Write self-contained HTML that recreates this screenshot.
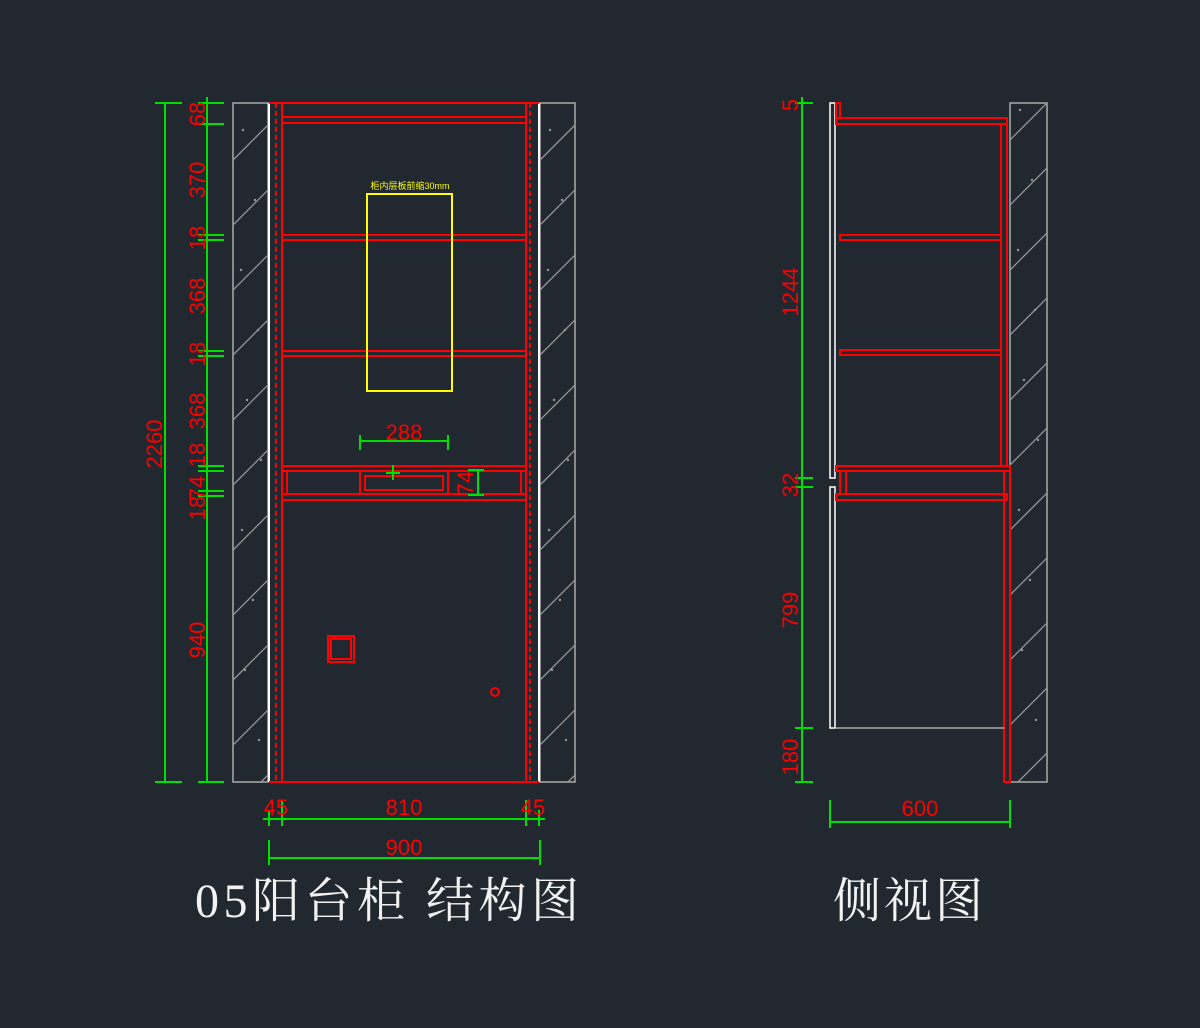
<!DOCTYPE html>
<html><head><meta charset="utf-8"><style>
html,body{margin:0;padding:0;background:#212830;}
svg{display:block}
.r{fill:none;stroke:#f00;stroke-width:2}
.g{fill:none;stroke:#00e000;stroke-width:2}
.w{fill:none;stroke:#aaa;stroke-width:1.5}
.dt{fill:#f00;font-family:"Liberation Sans Narrow","Liberation Sans",sans-serif;font-size:22px}
</style></head><body>
<svg width="1200" height="1028" viewBox="0 0 1200 1028" xmlns="http://www.w3.org/2000/svg">
<rect width="1200" height="1028" fill="#212830"/>
<defs>
<clipPath id="cl"><rect x="233" y="103" width="35" height="679"/></clipPath>
<clipPath id="cr"><rect x="540" y="103" width="35" height="679"/></clipPath>
<clipPath id="cs"><rect x="1010" y="103" width="37" height="679"/></clipPath>
<g id="hatch" stroke="#999" stroke-width="1.3">
<line x1="0" y1="160" x2="60" y2="100"/><line x1="0" y1="225" x2="60" y2="165"/>
<line x1="0" y1="290" x2="60" y2="230"/><line x1="0" y1="355" x2="60" y2="295"/>
<line x1="0" y1="420" x2="60" y2="360"/><line x1="0" y1="485" x2="60" y2="425"/>
<line x1="0" y1="550" x2="60" y2="490"/><line x1="0" y1="615" x2="60" y2="555"/>
<line x1="0" y1="680" x2="60" y2="620"/><line x1="0" y1="745" x2="60" y2="685"/>
<line x1="0" y1="810" x2="60" y2="750"/>
<g fill="#999" stroke="none">
<circle cx="10" cy="130" r="1.2"/><circle cx="22" cy="200" r="1.2"/><circle cx="8" cy="270" r="1.2"/><circle cx="25" cy="330" r="1.2"/><circle cx="14" cy="400" r="1.2"/><circle cx="28" cy="460" r="1.2"/><circle cx="9" cy="530" r="1.2"/><circle cx="20" cy="600" r="1.2"/><circle cx="12" cy="670" r="1.2"/><circle cx="26" cy="740" r="1.2"/>
</g>
</g>
</defs>
<rect x="233" y="103" width="35" height="679" class="w"/>
<g clip-path="url(#cl)"><use href="#hatch" x="233" y="0"/></g>
<rect x="540" y="103" width="35" height="679" class="w"/>
<g clip-path="url(#cr)"><use href="#hatch" x="540" y="0"/></g>
<rect x="1010" y="103" width="37" height="679" class="w"/>
<g clip-path="url(#cs)"><use href="#hatch" x="1010" y="-20"/></g>
<line x1="269" y1="103" x2="269" y2="782" stroke="#fff" stroke-width="2"/>
<line x1="539" y1="103" x2="539" y2="782" stroke="#fff" stroke-width="2"/>
<line x1="276" y1="103" x2="276" y2="782" stroke="#f00" stroke-width="2" stroke-dasharray="5,3"/>
<line x1="530" y1="103" x2="530" y2="782" stroke="#f00" stroke-width="2" stroke-dasharray="5,3"/>
<line x1="282" y1="103" x2="282" y2="782" class="r"/>
<line x1="526" y1="103" x2="526" y2="782" class="r"/>
<line x1="269" y1="103" x2="539" y2="103" class="r"/>
<line x1="269" y1="782" x2="539" y2="782" class="r"/>
<rect x="282" y="117" width="244" height="6" class="r"/>
<rect x="282" y="235" width="244" height="5" class="r"/>
<rect x="282" y="351" width="244" height="5" class="r"/>
<rect x="282" y="466" width="244" height="5" class="r"/>
<rect x="282" y="494" width="244" height="6" class="r"/>
<line x1="287" y1="471" x2="287" y2="494" class="r"/>
<line x1="521" y1="471" x2="521" y2="494" class="r"/>
<rect x="360" y="471" width="88" height="23" class="r"/>
<rect x="365" y="476" width="78" height="14" class="r"/>
<rect x="367" y="194" width="85" height="197" fill="none" stroke="#ff0" stroke-width="2"/>
<text x="410" y="189" fill="#ff0" font-size="9" text-anchor="middle" font-family="'Liberation Sans','Noto Sans CJK SC',sans-serif">柜内层板前缩30mm</text>
<rect x="328" y="636" width="26" height="26" class="r"/><rect x="331" y="639" width="20" height="20" class="r" stroke-width="1"/>
<circle cx="495" cy="692" r="4" class="r" stroke-width="1.5"/>
<line x1="360" y1="441" x2="448" y2="441" class="g"/>
<line x1="360" y1="435" x2="360" y2="450" class="g"/><line x1="448" y1="435" x2="448" y2="450" class="g"/>
<text x="404" y="440" class="dt" text-anchor="middle">288</text>
<line x1="393" y1="465" x2="393" y2="480" class="g"/><line x1="386" y1="473" x2="400" y2="473" class="g"/>
<line x1="478" y1="470" x2="478" y2="495" class="g"/><line x1="468" y1="470" x2="484" y2="470" class="g"/><line x1="468" y1="495" x2="484" y2="495" class="g"/>
<text transform="translate(473,483) rotate(-90)" class="dt" text-anchor="middle" font-size="18">74</text>
<line x1="165" y1="103" x2="165" y2="782" class="g"/>
<line x1="155" y1="103" x2="182" y2="103" class="g"/><line x1="155" y1="782" x2="182" y2="782" class="g"/>
<line x1="207" y1="97" x2="207" y2="782" class="g"/>
<g class="g">
<line x1="198" y1="103" x2="224" y2="103"/><line x1="198" y1="124" x2="224" y2="124"/>
<line x1="198" y1="235" x2="224" y2="235"/><line x1="198" y1="240" x2="224" y2="240"/>
<line x1="198" y1="351" x2="224" y2="351"/><line x1="198" y1="356" x2="224" y2="356"/>
<line x1="198" y1="466" x2="224" y2="466"/><line x1="198" y1="471" x2="224" y2="471"/>
<line x1="198" y1="491" x2="224" y2="491"/><line x1="198" y1="496" x2="224" y2="496"/>
<line x1="198" y1="782" x2="224" y2="782"/>
</g>
<g class="dt" text-anchor="middle" font-size="20">
<text transform="translate(205,114) rotate(-90)">68</text>
<text transform="translate(205,180) rotate(-90)">370</text>
<text transform="translate(205,238) rotate(-90)">18</text>
<text transform="translate(205,296) rotate(-90)">368</text>
<text transform="translate(205,354) rotate(-90)">18</text>
<text transform="translate(205,411) rotate(-90)">368</text>
<text transform="translate(205,455) rotate(-90)">18</text>
<text transform="translate(205,488) rotate(-90)">74</text>
<text transform="translate(205,508) rotate(-90)">18</text>
<text transform="translate(205,640) rotate(-90)">940</text>
<text transform="translate(162,444) rotate(-90)">2260</text>
</g>
<line x1="263" y1="819" x2="545" y2="819" class="g"/>
<g class="g"><line x1="269" y1="810" x2="269" y2="826"/><line x1="282" y1="800" x2="282" y2="826"/><line x1="526" y1="800" x2="526" y2="826"/><line x1="539" y1="810" x2="539" y2="826"/></g>
<line x1="269" y1="858" x2="540" y2="858" class="g"/>
<line x1="269" y1="840" x2="269" y2="865" class="g"/><line x1="540" y1="840" x2="540" y2="865" class="g"/>
<g class="dt" text-anchor="middle" font-size="24">
<text x="276" y="815">45</text><text x="404" y="815">810</text><text x="533" y="815">45</text>
<text x="404" y="855">900</text>
</g>
<rect x="830" y="103" width="5" height="375" fill="none" stroke="#fff" stroke-width="1.5"/>
<rect x="830" y="487" width="5" height="241" fill="none" stroke="#fff" stroke-width="1.5"/>
<rect x="836" y="103" width="4" height="15" class="r"/>
<rect x="836" y="118" width="171" height="6" class="r"/>
<rect x="1001" y="124" width="6" height="342" class="r"/>
<rect x="840" y="235" width="161" height="5" class="r"/>
<rect x="840" y="350" width="161" height="5" class="r"/>
<rect x="836" y="466" width="174" height="5" class="r"/>
<rect x="836" y="494" width="171" height="6" class="r"/>
<line x1="840" y1="471" x2="840" y2="494" class="r"/><line x1="846" y1="471" x2="846" y2="494" class="r"/>
<rect x="1004" y="471" width="6" height="311" class="r"/>
<line x1="836" y1="728" x2="1004" y2="728" stroke="#aaa" stroke-width="1.5"/>
<line x1="802" y1="97" x2="802" y2="782" class="g"/>
<g class="g"><line x1="795" y1="103" x2="813" y2="103"/><line x1="795" y1="478" x2="813" y2="478"/><line x1="795" y1="487" x2="813" y2="487"/><line x1="795" y1="728" x2="813" y2="728"/><line x1="795" y1="782" x2="813" y2="782"/></g>
<g class="dt" text-anchor="middle" font-size="20">
<text transform="translate(798,105) rotate(-90)">5</text>
<text transform="translate(798,292) rotate(-90)">1244</text>
<text transform="translate(798,485) rotate(-90)">32</text>
<text transform="translate(798,610) rotate(-90)">799</text>
<text transform="translate(798,757) rotate(-90)">180</text>
</g>
<line x1="830" y1="822" x2="1010" y2="822" class="g"/>
<line x1="830" y1="800" x2="830" y2="828" class="g"/><line x1="1010" y1="800" x2="1010" y2="828" class="g"/>
<text x="920" y="816" class="dt" text-anchor="middle" font-size="24">600</text>
<text x="195" y="917" fill="#f2f2f2" font-size="48" letter-spacing="4.5" font-family="'Liberation Serif','Noto Serif CJK SC',serif">05阳台柜 结构图</text>
<text x="833" y="917" fill="#f2f2f2" font-size="48" letter-spacing="3" font-family="'Liberation Serif','Noto Serif CJK SC',serif">侧视图</text>
</svg>
</body></html>
